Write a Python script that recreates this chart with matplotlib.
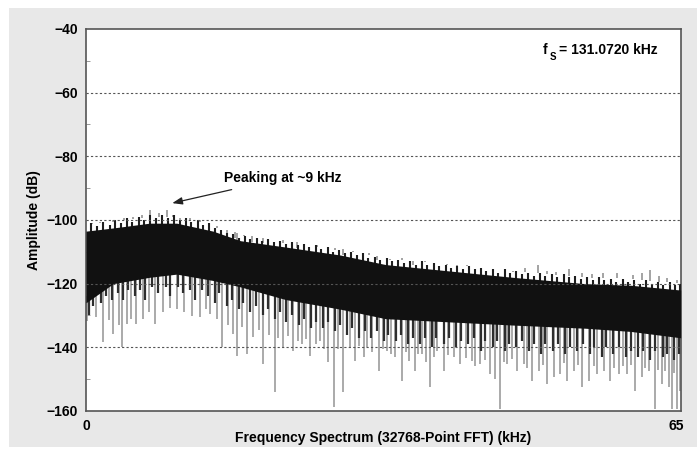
import numpy as np
import matplotlib.pyplot as plt
from matplotlib.patches import Rectangle

FONT = ['Liberation Sans Narrow', 'Liberation Sans', 'DejaVu Sans']
plt.rcParams['font.family'] = FONT
plt.rcParams['font.weight'] = 'bold'

# dense black noise band (edges), kHz / dB
band_freq = [0, 3, 7, 10, 14, 17, 22, 28, 33, 40, 47, 55, 60, 65.5]
band_top = [-103.5, -102.5, -101, -101, -103.5, -106.5, -108.5, -111, -114, -116, -118, -120, -120.5, -122]
band_bottom = [-126, -120, -118, -117, -119, -121, -125, -128, -131, -132, -133, -134, -135, -137]

# dark fringe just under the band
dark_down_freq = [0.3, 0.8, 1.6, 2.2, 2.9, 3.5, 4.1, 4.6, 5.4, 6.0, 6.5, 7.3, 7.9, 8.8, 9.3, 10.1,
                  10.7, 11.5, 12.0, 12.8, 13.4, 14.2, 14.7, 15.5, 16.1, 16.8, 17.3, 18.1, 18.7,
                  19.5, 20.0, 20.8, 21.4, 22.0, 22.7, 23.5, 24.0, 24.8, 25.3, 26.1, 26.7, 27.4,
                  28.0, 28.8, 29.3, 30.1, 30.7, 31.4, 32.0, 32.8, 33.3, 34.1, 34.7, 35.5, 36.0,
                  36.8, 37.3, 38.1, 38.6, 39.4, 40.0, 40.8, 41.3, 42.1, 42.7, 43.5, 44.0, 44.8,
                  45.3, 46.1, 46.6, 47.4, 48.0, 48.8, 49.3, 50.1, 50.6, 51.4, 52.0, 52.8, 53.3,
                  54.1, 54.7, 55.5, 56.0, 56.8, 57.3, 58.1, 58.7, 59.5, 60.0, 60.8, 61.3, 62.1,
                  62.7, 63.5, 64.0, 64.8, 65.3]
dark_down_tip = [-130, -127, -126, -124, -125, -123, -125, -122, -124, -122, -125, -121, -123, -121,
                 -124, -121, -123, -122, -125, -122, -124, -126, -123, -127, -125, -128, -126, -129,
                 -127, -130, -128, -131, -129, -132, -130, -133, -131, -134, -132, -134, -132, -135,
                 -133, -136, -134, -137, -135, -137, -135, -138, -136, -138, -136, -139, -137, -139,
                 -137, -140, -137, -139, -137, -140, -138, -139, -137, -141, -138, -140, -138, -141,
                 -139, -140, -138, -141, -139, -142, -139, -141, -139, -142, -140, -141, -139, -142,
                 -140, -143, -140, -142, -140, -143, -141, -143, -141, -144, -141, -143, -142, -144,
                 -142]

# dark fringe just over the band
dark_up_freq = [0.5, 1.2, 1.9, 2.6, 3.2, 3.8, 4.5, 5.1, 5.8, 6.4, 7.1, 7.7, 8.4, 9.0, 9.7, 10.3,
                11.0, 11.6, 12.3, 12.9, 13.6, 14.2, 14.9, 15.5, 16.2, 16.8, 17.5, 18.1, 18.8,
                19.4, 20.1, 20.7, 21.4, 22.0, 22.7, 23.3, 24.0, 24.6, 25.3, 25.9, 26.6, 27.2,
                27.9, 28.5, 29.2, 29.8, 30.5, 31.1, 31.8, 32.4, 33.1, 33.7, 34.4, 35.0, 35.7,
                36.3, 37.0, 37.6, 38.3, 38.9, 39.6, 40.2, 40.9, 41.5, 42.2, 42.8, 43.5, 44.1,
                44.8, 45.4, 46.1, 46.7, 47.4, 48.0, 48.7, 49.3, 50.0, 50.6, 51.3, 51.9, 52.6,
                53.2, 53.9, 54.5, 55.2, 55.8, 56.5, 57.1, 57.8, 58.4, 59.1, 59.7, 60.4, 61.0,
                61.7, 62.3, 63.0, 63.6, 64.3, 64.9, 65.4]
dark_up_tip = [-101, -102, -100.5, -101.5, -100, -101, -99.5, -100.5, -99, -100, -98.5, -99.5,
               -98.5, -99.5, -98.5, -100, -99.5, -100.5, -100, -101.5, -101, -102.5, -103, -104,
               -104.5, -105.5, -105, -106, -105.5, -106.5, -106, -107, -106.5, -107.5, -107, -108,
               -107.5, -108.5, -108, -109, -108.5, -110, -109.5, -110.5, -110, -111, -110.5, -112,
               -111.5, -112.5, -112, -113, -112.5, -113.5, -113, -114, -113, -114, -113.5, -114.5,
               -114, -115, -114.5, -115.5, -114.5, -115.5, -115, -116, -115.5, -116.5, -115.5,
               -116.5, -116, -117, -116.5, -117.5, -116.5, -117.5, -117, -118, -117, -118, -117.5,
               -118.5, -118, -119, -118, -119, -118.5, -119.5, -118.5, -119.5, -119, -120, -119,
               -120, -119.5, -120.5, -119.5, -120.5, -120]

# gray spikes below the band (frequency kHz, tip dB)
down_freq = [0.1, 1.1, 1.9, 2.5, 3.0, 3.6, 4.0, 4.5, 5.0, 5.5, 6.3, 6.9, 7.6, 8.5, 9.2, 10.0, 10.8,
             11.7, 12.6, 13.2, 13.7, 14.4, 15.0, 15.6, 16.2, 16.6, 17.2, 17.7, 18.4, 19.0, 19.5,
             20.2, 20.8, 21.2, 21.7, 22.3, 22.8, 23.3, 23.8, 24.2, 24.7, 25.3, 25.8, 26.2, 26.7,
             27.3, 27.8, 28.3, 29.1, 29.6, 30.1, 30.6, 31.0, 31.5, 32.3, 32.7, 33.1, 33.6, 34.0,
             34.8, 35.2, 35.6, 36.2, 36.6, 37.0, 37.5, 37.9, 38.3, 38.7, 39.4, 39.9, 40.5, 41.2,
             41.8, 42.5, 42.9, 43.4, 44.0, 44.5, 45.0, 45.6, 46.0, 46.4, 46.9, 47.5, 48.2, 48.6,
             49.1, 49.9, 50.3, 50.8, 51.5, 52.2, 52.6, 53.0, 53.7, 54.2, 54.6, 55.4, 55.9, 56.3,
             57.0, 57.7, 58.2, 58.7, 59.2, 59.6, 60.0, 60.5, 61.2, 61.6, 62.0, 62.7, 63.0, 63.4,
             63.8, 64.2, 64.5, 64.8, 65.1, 65.4]
down_tip = [-131.6, -130.5, -138.4, -131.5, -135.8, -133.0, -140.0, -132.7, -131.0, -132.7, -131.1,
            -129.0, -132.7, -129.0, -127.5, -128.0, -129.0, -130.1, -130.6, -128.0, -129.5, -131.0,
            -140.0, -133.0, -135.8, -142.6, -133.5, -142.1, -136.9, -134.5, -145.2, -136.0, -154.1,
            -137.0, -140.0, -136.5, -141.1, -138.0, -139.0, -137.5, -142.6, -139.0, -137.9, -140.5,
            -144.7, -158.6, -140.5, -154.1, -140.0, -144.2, -139.5, -143.1, -140.0, -141.6, -147.3,
            -140.5, -141.1, -142.0, -143.1, -150.5, -141.5, -144.2, -147.3, -142.0, -142.1, -144.5,
            -152.6, -143.0, -141.1, -147.3, -142.5, -143.1, -145.2, -143.5, -144.2, -146.0, -145.2,
            -144.0, -148.4, -149.9, -159.4, -144.5, -145.2, -143.8, -147.3, -145.2, -146.5, -150.5,
            -147.3, -145.5, -151.5, -149.4, -148.4, -145.0, -150.5, -147.3, -145.5, -152.6, -150.5,
            -146.0, -148.4, -147.3, -150.5, -146.5, -148.4, -146.0, -148.4, -145.5, -153.6, -149.4,
            -146.5, -147.3, -159.4, -147.0, -151.5, -147.5, -152.6, -159.4, -148.0, -159.4, -153.6]

# gray spikes above the band
up_freq = [0.7, 1.5, 3.0, 4.2, 5.2, 6.2, 7.0, 8.0, 8.9, 9.6, 10.4, 11.5, 12.6, 13.5, 14.4, 15.5,
           16.4, 16.6, 17.4, 18.3, 19.5, 20.6, 21.7, 23.2, 24.3, 25.4, 26.6, 27.4, 28.3, 29.4,
           30.5, 31.2, 32.0, 33.1, 33.5, 34.8, 36.0, 37.3, 38.7, 39.8, 40.9, 42.0, 43.1, 44.4,
           45.6, 47.0, 48.3, 49.8, 50.8, 51.8, 53.2, 54.6, 55.7, 56.9, 58.5, 60.2, 61.2, 62.1,
           63.1, 64.0, 65.1]
up_tip = [-101.0, -100.5, -100.0, -99.5, -99.0, -98.5, -96.9, -97.9, -96.9, -98.5, -100.5, -99.5,
          -100.0, -101.0, -102.6, -104.7, -105.8, -106.8, -105.0, -106.8, -107.3, -106.0, -107.3,
          -108.9, -107.5, -108.4, -108.9, -109.5, -111.0, -110.0, -111.5, -110.5, -112.6, -113.6,
          -112.6, -112.0, -114.1, -113.0, -113.6, -114.0, -115.2, -114.0, -114.7, -115.5, -115.7,
          -116.2, -115.0, -114.1, -116.0, -116.2, -115.5, -116.8, -117.0, -116.8, -116.5, -117.3,
          -116.5, -115.7, -117.5, -118.3, -118.9]

y_ticks = [-40, -60, -80, -100, -120, -140, -160]

fig = plt.figure(figsize=(6.97, 4.49), dpi=100)
fig.patch.set_facecolor('white')
fig.patches.append(Rectangle((9 / 697, 2 / 449), 1 - 9 / 697, 1 - 10 / 449,
                             transform=fig.transFigure, facecolor='#e8e8e8',
                             edgecolor='none', zorder=-10))

ax = fig.add_axes([86 / 697, 1 - 411 / 449, 595 / 697, 382 / 449])
ax.set_facecolor('white')

bot_at = np.interp(down_freq, band_freq, band_bottom)
top_at = np.interp(up_freq, band_freq, band_top)
ax.vlines(down_freq, down_tip, bot_at + 2, color='#9c9c9c', lw=1.2, zorder=2)
ax.vlines(up_freq, top_at + 2, up_tip, color='#8a8a8a', lw=1.1, zorder=2)

dbot_at = np.interp(dark_down_freq, band_freq, band_bottom)
dtop_at = np.interp(dark_up_freq, band_freq, band_top)
ax.vlines(dark_down_freq, dark_down_tip, dbot_at + 2, color='#2e2e2e', lw=1.6, zorder=3)
ax.vlines(dark_up_freq, dtop_at - 2, dark_up_tip, color='#1e1e1e', lw=1.5, zorder=3)

ax.fill_between(band_freq, band_bottom, band_top, color='#111111', lw=0, zorder=4)

ax.set_xlim(0, 65.536)
ax.set_ylim(-160, -40)
ax.set_yticks(y_ticks)
ax.set_yticks(np.arange(-150, -40, 20), minor=True)
ax.set_xticks([0, 65])
ax.set_xticklabels(['0', '65'])
ax.tick_params(axis='both', which='major', length=0, labelsize=10, pad=6)
ax.tick_params(axis='y', which='minor', length=3, direction='in', color='#888888')
for lab in ax.get_xticklabels() + ax.get_yticklabels():
    lab.set_fontweight('bold')

for y in [-60, -80, -100, -120, -140]:
    ax.axhline(y, color='#555555', lw=0.8, ls=(0, (2, 2)), zorder=5)

for s in ax.spines.values():
    s.set_color('#555555')
    s.set_linewidth(1.2)

ax.set_xlabel('Frequency Spectrum (32768-Point FFT) (kHz)', fontsize=10, fontweight='bold', labelpad=-2)
ax.set_ylabel('Amplitude (dB)', fontsize=10, fontweight='bold', labelpad=4)

ax.annotate('Peaking at ~9 kHz', xy=(9.5, -94.7), xytext=(15.2, -86.8),
            fontsize=10, fontweight='bold', ha='left', va='center',
            arrowprops=dict(arrowstyle='-|>,head_length=0.6,head_width=0.22',
                            color='#222222', lw=0.9, shrinkA=6, shrinkB=0))

ax.text(0.768, 0.945, 'f', transform=ax.transAxes, fontsize=10, fontweight='bold', va='center')
ax.text(0.779, 0.928, 'S', transform=ax.transAxes, fontsize=7, fontweight='bold', va='center')
ax.text(0.795, 0.945, '= 131.0720 kHz', transform=ax.transAxes, fontsize=10, fontweight='bold', va='center')

fig.savefig('out.png', dpi=100)
